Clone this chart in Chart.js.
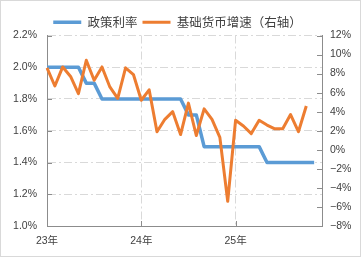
<!DOCTYPE html>
<html>
<head>
<meta charset="utf-8">
<script src="https://cdn.jsdelivr.net/npm/chart.js@4.4.0/dist/chart.umd.min.js"></script>
<style>
  html, body { margin: 0; padding: 0; background: #fff; }
  #wrap { width: 361px; height: 257px; position: relative; }
</style>
</head>
<body>
<div id="wrap"><canvas id="chart"></canvas></div>
<script>
// months on the x axis (Jan 2023 - Dec 2025)
const months = [
  '2023-01','2023-02','2023-03','2023-04','2023-05','2023-06','2023-07','2023-08','2023-09','2023-10','2023-11','2023-12',
  '2024-01','2024-02','2024-03','2024-04','2024-05','2024-06','2024-07','2024-08','2024-09','2024-10','2024-11','2024-12',
  '2025-01','2025-02','2025-03','2025-04','2025-05','2025-06','2025-07','2025-08','2025-09','2025-10','2025-11','2025-12'
];
const yearStarts = ['2023-01', '2024-01', '2025-01'];
const yearLabels = ['23年', '24年', '25年'];

// 政策利率 (%, left axis)
const policyRate = [
  2.0, 2.0, 2.0, 2.0, 2.0, 1.9, 1.9, 1.8, 1.8, 1.8, 1.8, 1.8,
  1.8, 1.8, 1.8, 1.8, 1.8, 1.8, 1.7, 1.7, 1.5, 1.5, 1.5, 1.5,
  1.5, 1.5, 1.5, 1.5, 1.4, 1.4, 1.4, 1.4, 1.4, 1.4, 1.4
];
// 基础货币增速 (%, right axis)
const baseMoney = [
  8.6, 6.7, 8.7, 7.7, 5.9, 9.4, 7.3, 8.7, 6.6, 5.4, 8.6, 7.9,
  5.2, 6.3, 1.9, 3.2, 4.0, 1.6, 4.9, 1.5, 4.3, 3.2, 1.3, -5.4,
  3.1, 2.5, 1.7, 3.1, 2.6, 2.2, 2.2, 3.7, 1.9, 4.6
];

const BLUE = '#5B9BD5';
const ORANGE = '#ED7D31';
const AXIS = '#8c8c8c';
const GRID = '#d9d9d9';
const TEXT = '#404040';

// white background and light frame round the picture
const frame = {
  id: 'frame',
  beforeDraw(chart) {
    const { ctx, width, height } = chart;
    ctx.save();
    ctx.fillStyle = '#fff';
    ctx.fillRect(0, 0, width, height);
    ctx.strokeStyle = GRID;
    ctx.lineWidth = 1;
    ctx.strokeRect(0.5, 0.5, width - 1, height - 1);
    ctx.restore();
  }
};

// nudge the legend a little lower without moving the plot
const legendNudge = {
  id: 'legendNudge',
  afterLayout(chart) {
    chart.legend.top += 3;
    chart.legend.bottom += 3;
    chart.legend.left -= 3;
    chart.legend.right -= 3;
  }
};

// short tick marks pointing into the plot
const innerTicks = {
  id: 'innerTicks',
  beforeDatasetsDraw(chart) {
    const { ctx, chartArea: a, scales } = chart;
    ctx.save();
    ctx.strokeStyle = AXIS;
    ctx.lineWidth = 1;
    ctx.beginPath();
    scales.y.ticks.forEach((t, i) => {
      const y = Math.round(scales.y.getPixelForTick(i)) + 0.5;
      ctx.moveTo(a.left, y);
      ctx.lineTo(a.left + 5, y);
    });
    scales.y1.ticks.forEach((t, i) => {
      const y = Math.round(scales.y1.getPixelForTick(i)) + 0.5;
      ctx.moveTo(a.right - 5, y);
      ctx.lineTo(a.right, y);
    });
    yearStarts.forEach(m => {
      const x = Math.round(scales.x.getPixelForValue(months.indexOf(m))) + 0.5;
      ctx.moveTo(x, a.bottom);
      ctx.lineTo(x, a.bottom - 5);
    });
    ctx.stroke();
    ctx.restore();
  }
};

const tickFont = { family: 'Liberation Sans, Noto Sans CJK SC', size: 10.5 };

new Chart(document.getElementById('chart'), {
  type: 'line',
  data: {
    labels: months,
    datasets: [
      {
        label: '政策利率',
        data: policyRate,
        yAxisID: 'y',
        borderColor: BLUE,
        backgroundColor: BLUE,
        borderWidth: 3.5,
        pointRadius: 0,
        tension: 0,
        borderJoinStyle: 'round',
        order: 1
      },
      {
        label: '基础货币增速（右轴）',
        data: baseMoney,
        yAxisID: 'y1',
        borderColor: ORANGE,
        backgroundColor: ORANGE,
        borderWidth: 3,
        pointRadius: 0,
        tension: 0,
        borderJoinStyle: 'round',
        order: 0
      }
    ]
  },
  options: {
    responsive: true,
    maintainAspectRatio: false,
    devicePixelRatio: 1,
    animation: false,
    layout: { padding: { top: 8, left: 0, right: 0, bottom: 0 } },
    plugins: {
      tooltip: { enabled: false },
      legend: {
        position: 'top',
        labels: {
          usePointStyle: true,
          pointStyle: 'line',
          pointStyleWidth: 28,
          boxHeight: 12,
          padding: 5,
          color: TEXT,
          font: { family: 'Noto Sans CJK SC', size: 12.5 },
          sort: (a, b) => a.datasetIndex - b.datasetIndex
        }
      }
    },
    scales: {
      x: {
        type: 'category',
        offset: false,
        afterFit: s => { s.height = 31; },
        grid: {
          drawTicks: false,
          color: c => (c.index > 0 && yearStarts.includes(months[c.index])) ? GRID : 'transparent'
        },
        border: { display: true, color: AXIS, dash: [8, 3, 2, 3] },
        ticks: {
          autoSkip: false,
          maxRotation: 0,
          padding: 9,
          color: TEXT,
          font: tickFont,
          callback: (v, i) => {
            const k = yearStarts.indexOf(months[i]);
            return k >= 0 ? yearLabels[k] : '';
          }
        }
      },
      y: {
        position: 'left',
        min: 1.0,
        max: 2.2,
        afterFit: s => { s.width = 47; },
        grid: {
          drawTicks: false,
          color: c => (c.tick && c.tick.value <= 1.0001) ? 'transparent' : GRID
        },
        border: { display: true, color: AXIS, dash: [8, 3, 2, 3] },
        ticks: {
          stepSize: 0.2,
          padding: 10,
          color: TEXT,
          font: tickFont,
          callback: v => v.toFixed(1) + '%'
        }
      },
      y1: {
        position: 'right',
        min: -8,
        max: 12,
        afterFit: s => { s.width = 39; },
        grid: { drawOnChartArea: false, drawTicks: false },
        border: { display: true, color: AXIS },
        ticks: {
          stepSize: 2,
          padding: 8,
          color: TEXT,
          font: tickFont,
          callback: v => (v < 0 ? '\u2212' + Math.abs(v) : v) + '%'
        }
      }
    }
  },
  plugins: [frame, legendNudge, innerTicks]
});
</script>
</body>
</html>
